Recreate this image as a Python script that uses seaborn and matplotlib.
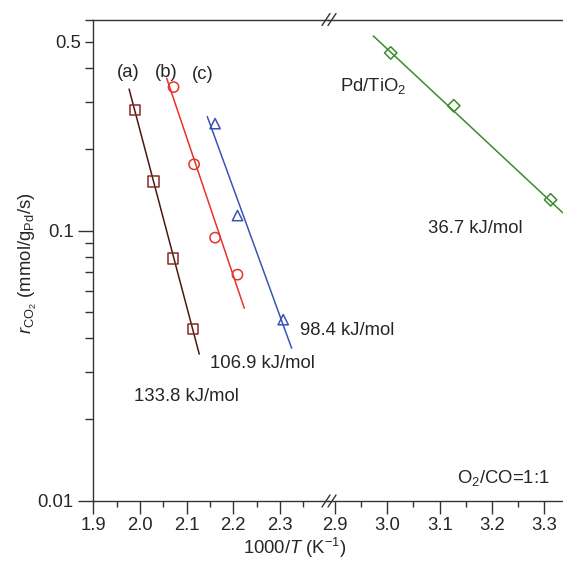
import matplotlib
matplotlib.use("Agg")
import matplotlib.pyplot as plt
from matplotlib.lines import Line2D
import numpy as np
import pandas as pd
import seaborn as sns

# measured points (1000/T, rate)
a_x = [1.989, 2.029, 2.071, 2.114]
a_y = [0.279, 0.152, 0.0788, 0.0432]
b_x = [2.072, 2.116, 2.161, 2.209]
b_y = [0.340, 0.176, 0.0942, 0.0687]
c_x = [2.161, 2.209, 2.307]
c_y = [0.249, 0.1137, 0.0468]
d_x = [3.0065, 3.127, 3.312]
d_y = [0.455, 0.290, 0.130]

# Arrhenius fit lines (end points)
a_fit_x = [1.9767, 2.1271]
a_fit_y = [0.3343, 0.0349]
b_fit_x = [2.0573, 2.2236]
b_fit_y = [0.3667, 0.0516]
c_fit_x = [2.1443, 2.3251]
c_fit_y = [0.2644, 0.0367]
d_fit_x = [2.9732, 3.3356]
d_fit_y = [0.526, 0.1163]

left_ticks = [1.9, 2.0, 2.1, 2.2, 2.3]
left_minor = [1.95, 2.05, 2.15, 2.25, 2.35]
right_ticks = [2.9, 3.0, 3.1, 3.2, 3.3]
right_minor = [2.95, 3.05, 3.15, 3.25]
y_major = [0.01, 0.1]
y_minor = [0.02, 0.03, 0.04, 0.05, 0.06, 0.07, 0.08, 0.09, 0.2, 0.3, 0.4, 0.5, 0.6]

sns.set_style("ticks")
plt.rcParams["font.family"] = ["Liberation Sans", "DejaVu Sans"]
plt.rcParams["mathtext.fontset"] = "custom"
plt.rcParams["mathtext.rm"] = "Liberation Sans"
plt.rcParams["mathtext.it"] = "Liberation Sans:italic"
plt.rcParams["axes.edgecolor"] = "#333333"
plt.rcParams["axes.linewidth"] = 1.0

FS = 13.3
fig = plt.figure(figsize=(5.63, 5.62), dpi=100)
ax_l = fig.add_axes([0.1657, 0.1091, 0.4169, 0.8562])
ax_r = fig.add_axes([0.5826, 0.1091, 0.4174, 0.8562], sharey=ax_l)
ax_r.patch.set_visible(False)

series = [
    (ax_l, a_x, a_y, a_fit_x, a_fit_y, "s", "#8a2a22", "#4a1812"),
    (ax_l, b_x, b_y, b_fit_x, b_fit_y, "o", "#e8322b", "#e8322b"),
    (ax_l, c_x, c_y, c_fit_x, c_fit_y, "^", "#3a55b4", "#3a55b4"),
    (ax_r, d_x, d_y, d_fit_x, d_fit_y, "D", "#3c8c2c", "#3c8c2c"),
]
for ax, xs, ys, fx, fy, mk, mcol, lcol in series:
    sns.lineplot(x=fx, y=fy, color=lcol, lw=1.1, ax=ax)
    sns.scatterplot(x=xs, y=ys, marker=mk, s=55 if mk != "D" else 40,
                    facecolor="none", edgecolor=mcol, linewidth=1.1, ax=ax, zorder=3)

ax_l.set_yscale("log")
ax_l.set_ylim(0.01, 0.605)
ax_l.set_xlim(1.9, 2.403)
ax_r.set_xlim(2.8867, 3.3357)

ax_l.set_xticks(left_ticks, [f"{t:.1f}" for t in left_ticks])
ax_l.set_xticks(left_minor, minor=True)
ax_r.set_xticks(right_ticks, [f"{t:.1f}" for t in right_ticks])
ax_r.set_xticks(right_minor, minor=True)
ax_l.set_yticks(y_major, ["0.01", "0.1"])
ax_l.set_yticks(y_minor, ["0.5" if v == 0.5 else "" for v in y_minor], minor=True)

for ax in (ax_l, ax_r):
    ax.spines["right"].set_visible(False)
    ax.tick_params(axis="x", which="major", direction="out", length=9, width=1,
                   labelsize=FS, pad=3, color="#333333")
    ax.tick_params(axis="x", which="minor", direction="out", length=4, width=1,
                   color="#333333")
    ax.set_xlabel("")
    ax.set_ylabel("")
ax_l.tick_params(axis="y", which="major", direction="out", length=11, width=1,
                 labelsize=FS, pad=3, color="#333333")
ax_l.tick_params(axis="y", which="minor", direction="out", length=5.5, width=1,
                 labelsize=FS, pad=3, color="#333333")
ax_r.spines["left"].set_visible(False)
ax_r.tick_params(axis="y", which="both", left=False, labelleft=False)

# annotations
ax_l.text(1.9745, 0.385, "(a)", fontsize=FS, ha="center", va="center")
ax_l.text(2.0556, 0.385, "(b)", fontsize=FS, ha="center", va="center")
ax_l.text(2.135, 0.377, "(c)", fontsize=FS, ha="center", va="center")
ax_l.text(2.3425, 0.0425, "98.4 kJ/mol", fontsize=FS, ha="left", va="center")
ax_l.text(2.1501, 0.0321, "106.9 kJ/mol", fontsize=FS, ha="left", va="center")
ax_l.text(1.9872, 0.0244, "133.8 kJ/mol", fontsize=FS, ha="left", va="center")
ax_r.text(2.9096, 0.3435, r"Pd/TiO$_2$", fontsize=FS, ha="left", va="center")
ax_r.text(3.0778, 0.1015, "36.7 kJ/mol", fontsize=FS, ha="left", va="center")
ax_r.text(3.1333, 0.0121, r"O$_2$/CO=1:1", fontsize=FS, ha="left", va="center")

fig.text(0.050, 0.532, r"$r_{\mathrm{CO}_2}$ (mmol/g$_{\mathrm{Pd}}$/s)", rotation=90,
         ha="center", va="center", fontsize=FS)
fig.text(0.524, 0.004, r"1000/$T$ (K$^{-1}$)", ha="center", va="bottom", fontsize=FS)

# axis break marks
W, H = 563.0, 562.0
for ypx in (501.0, 19.5):
    for dx in (-4.0, 2.0):
        x0, x1 = 326.0 + dx, 334.0 + dx
        fig.add_artist(Line2D([x0 / W, x1 / W], [1 - (ypx + 6) / H, 1 - (ypx - 6) / H],
                              color="#333333", lw=1.0))

fig.savefig("out.png", dpi=100)
